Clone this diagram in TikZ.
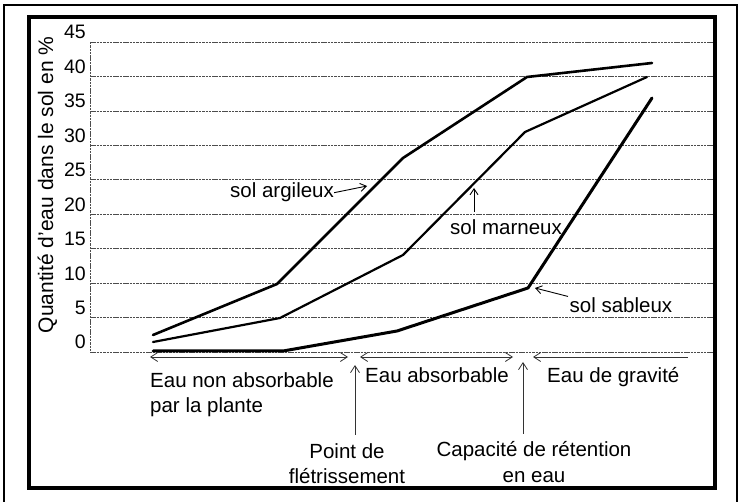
\documentclass[tikz,border=0pt]{standalone}
\usepackage{fontspec}
\setmainfont{Liberation Sans}
\usetikzlibrary{arrows.meta}

\begin{document}
\begin{tikzpicture}[x=1pt, y=-1pt]
    \tikzstyle{gridline}=[draw=black!70, line width=0.7pt, dash pattern=on 2.5pt off 0.8pt];
    \tikzstyle{ticklab}=[anchor=base east, inner sep=0, font=\fontsize{19.5}{22}\selectfont];
    \tikzstyle{txt}=[inner sep=0, font=\fontsize{20.5}{25}\selectfont];
    \tikzstyle{soil}=[line width=2.6pt, line join=round, line cap=round];
    \tikzstyle{pointer}=[line width=0.9pt, -{Straight Barb[length=6pt, width=8pt]}];
    \tikzstyle{span}=[draw=black!80, line width=0.8pt];

    \useasboundingbox (0,0) rectangle (739,502);
    \draw[line width=1.3pt] (4,502) -- (4,5) -- (737,5) -- (737,502);
    \draw[line width=4pt] (29,17) rectangle (715,488);

    % grid and scale
    \foreach \v in {0,5,...,45}{
        \draw[gridline] (90,{352-6.889*\v}) -- (713,{352-6.889*\v});
        \node[ticklab] (t\v) at (86,{349-6.889*\v}) {\v};
    }
    \draw[gridline] (90,42) -- (90,352);
    \node[txt, rotate=90, anchor=base, font=\fontsize{21}{25}\selectfont] (ylab) at (53,185)
    {Quantité d'eau dans le sol en \%};

    % soils
    \draw[soil] (153,335) -- (277,284) -- (403,158) -- (527,77) -- (652,63);
    \draw[soil, line width=2.2pt] (153,342) -- (280,318) -- (403,255) -- (525,132) -- (647,77);
    \draw[soil, line width=3pt] (153,351) -- (283,351) -- (397,331) -- (528,288) -- (652,98);

    \node[txt, anchor=base west] (arg) at (230,198) {sol argileux};
    \coordinate (argtip) at (367,186);
    \draw[pointer] (arg.east) -- (argtip);

    \node[txt, anchor=base west, inner ysep=8pt] (marn) at (450,235) {sol marneux};
    \coordinate (marntip) at (474,188);
    \draw[pointer] (marn.north -| marntip) -- (marntip);

    \node[txt, anchor=base west, inner sep=1.5pt] (sab) at (568,313) {sol sableux};
    \coordinate (sabtip) at (535,288);
    \draw[pointer] (sab.north west) -- (sabtip);

    % water classes
    \coordinate (x0) at (150,357);
    \coordinate (pf) at (355,357);
    \coordinate (cr) at (523,357);
    \coordinate (x1) at (688,357);
    \draw[span, {Straight Barb[length=7pt, width=9pt]}-{Straight Barb[length=7pt, width=9pt]}] (x0) -- ([xshift=-7pt]pf);
    \draw[span, {Straight Barb[length=7pt, width=9pt]}-{Straight Barb[length=7pt, width=9pt]}] ([xshift=5pt]pf) -- ([xshift=-10pt]cr);
    \draw[span, {Straight Barb[length=7pt, width=9pt]}-] ([xshift=10pt]cr) -- (x1);

    \node[txt, anchor=base west, align=left] (nonabs) at (150,413) {Eau non absorbable\\par la plante};
    \node[txt, anchor=base west] (abs) at (365,383) {Eau absorbable};
    \node[txt, anchor=base west] (grav) at (547,383) {Eau de gravité};

    \node[txt, anchor=base, align=center, inner ysep=8pt] (wilt) at (347,483) {Point de\\flétrissement};
    \node[txt, anchor=base, align=center, inner ysep=8pt] (cap) at (534,482) {Capacité de rétention\\en eau};
    \draw[span, -{Straight Barb[length=7pt, width=9pt]}] (wilt.north -| pf) -- ([yshift=-8pt]pf);
    \draw[span, -{Straight Barb[length=7pt, width=9pt]}] (cap.north -| cr) -- ([yshift=-5pt]cr);
\end{tikzpicture}
\end{document}
